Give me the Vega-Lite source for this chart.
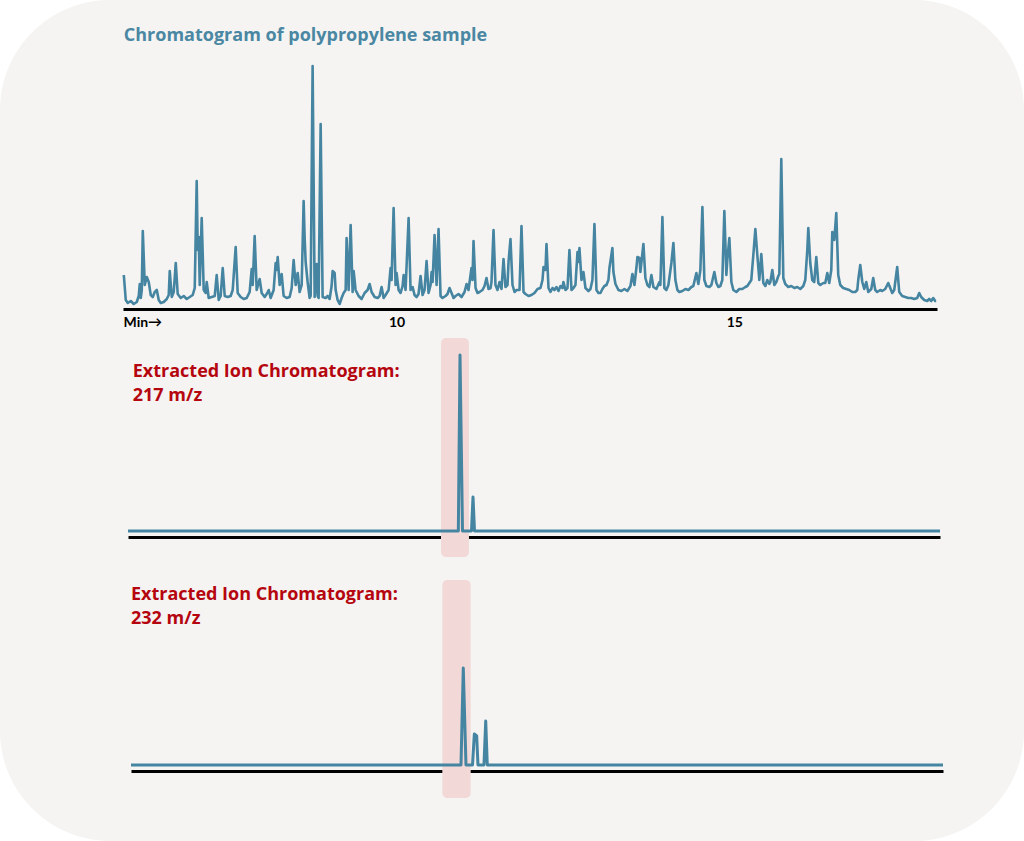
{
  "$schema": "https://vega.github.io/schema/vega-lite/v6.json",
  "width": 1024,
  "height": 841,
  "autosize": "none",
  "padding": 0,
  "background": "#ffffff",
  "config": {
    "view": {"fill": "#f5f4f2", "stroke": null, "cornerRadius": 110},
    "font": "Open Sans"
  },
  "datasets": {
    "tic": [
      {"t":5.962,"i":34},{"t":5.991,"i":9},{"t":6.021,"i":6},{"t":6.065,"i":8},{"t":6.109,"i":5},{"t":6.154,"i":7},{"t":6.183,"i":13},{"t":6.198,"i":25},{"t":6.213,"i":11},{"t":6.228,"i":19},
      {"t":6.243,"i":78},{"t":6.272,"i":24},{"t":6.302,"i":32},{"t":6.331,"i":27},{"t":6.361,"i":14},{"t":6.391,"i":12},{"t":6.420,"i":17},{"t":6.450,"i":19},{"t":6.479,"i":9},{"t":6.509,"i":6},
      {"t":6.553,"i":7},{"t":6.598,"i":10},{"t":6.627,"i":14},{"t":6.642,"i":38},{"t":6.672,"i":12},{"t":6.701,"i":17},{"t":6.731,"i":46},{"t":6.760,"i":15},{"t":6.805,"i":11},{"t":6.849,"i":13},
      {"t":6.893,"i":10},{"t":6.938,"i":12},{"t":6.982,"i":14},{"t":7.012,"i":21},{"t":7.041,"i":128},{"t":7.056,"i":59},{"t":7.071,"i":72},{"t":7.086,"i":24},{"t":7.115,"i":91},{"t":7.145,"i":19},
      {"t":7.175,"i":16},{"t":7.189,"i":27},{"t":7.219,"i":11},{"t":7.263,"i":12},{"t":7.308,"i":13},{"t":7.337,"i":34},{"t":7.367,"i":9},{"t":7.396,"i":13},{"t":7.426,"i":41},{"t":7.456,"i":13},
      {"t":7.500,"i":12},{"t":7.544,"i":13},{"t":7.574,"i":19},{"t":7.618,"i":62},{"t":7.648,"i":16},{"t":7.692,"i":12},{"t":7.737,"i":10},{"t":7.781,"i":11},{"t":7.825,"i":17},{"t":7.855,"i":40},
      {"t":7.870,"i":24},{"t":7.899,"i":73},{"t":7.929,"i":19},{"t":7.973,"i":30},{"t":8.003,"i":16},{"t":8.047,"i":12},{"t":8.077,"i":15},{"t":8.107,"i":19},{"t":8.136,"i":11},{"t":8.180,"i":19},
      {"t":8.210,"i":46},{"t":8.225,"i":39},{"t":8.240,"i":52},{"t":8.269,"i":24},{"t":8.299,"i":35},{"t":8.328,"i":13},{"t":8.373,"i":11},{"t":8.417,"i":12},{"t":8.447,"i":21},{"t":8.476,"i":49},
      {"t":8.506,"i":24},{"t":8.536,"i":36},{"t":8.565,"i":17},{"t":8.595,"i":24},{"t":8.624,"i":108},{"t":8.639,"i":71},{"t":8.654,"i":47},{"t":8.683,"i":27},{"t":8.713,"i":11},{"t":8.728,"i":13},
      {"t":8.757,"i":243},{"t":8.787,"i":12},{"t":8.817,"i":45},{"t":8.831,"i":13},{"t":8.846,"i":11},{"t":8.876,"i":185},{"t":8.905,"i":12},{"t":8.950,"i":11},{"t":8.979,"i":13},{"t":9.009,"i":10},
      {"t":9.038,"i":23},{"t":9.053,"i":38},{"t":9.083,"i":36},{"t":9.098,"i":19},{"t":9.127,"i":9},{"t":9.157,"i":5},{"t":9.186,"i":11},{"t":9.216,"i":16},{"t":9.246,"i":19},{"t":9.260,"i":71},
      {"t":9.290,"i":19},{"t":9.320,"i":84},{"t":9.349,"i":17},{"t":9.364,"i":38},{"t":9.393,"i":19},{"t":9.438,"i":13},{"t":9.482,"i":10},{"t":9.527,"i":16},{"t":9.571,"i":19},{"t":9.601,"i":25},
      {"t":9.630,"i":17},{"t":9.675,"i":12},{"t":9.719,"i":11},{"t":9.749,"i":13},{"t":9.778,"i":22},{"t":9.808,"i":11},{"t":9.837,"i":14},{"t":9.882,"i":19},{"t":9.911,"i":41},{"t":9.926,"i":29},
      {"t":9.956,"i":101},{"t":9.985,"i":24},{"t":10.000,"i":36},{"t":10.030,"i":19},{"t":10.059,"i":16},{"t":10.089,"i":23},{"t":10.104,"i":34},{"t":10.133,"i":19},{"t":10.178,"i":91},{"t":10.207,"i":19},
      {"t":10.237,"i":22},{"t":10.266,"i":14},{"t":10.296,"i":12},{"t":10.325,"i":15},{"t":10.355,"i":33},{"t":10.385,"i":14},{"t":10.414,"i":19},{"t":10.444,"i":48},{"t":10.473,"i":16},{"t":10.503,"i":24},
      {"t":10.518,"i":37},{"t":10.533,"i":27},{"t":10.562,"i":74},{"t":10.592,"i":24},{"t":10.621,"i":80},{"t":10.651,"i":13},{"t":10.680,"i":11},{"t":10.725,"i":13},{"t":10.754,"i":15},{"t":10.784,"i":21},
      {"t":10.814,"i":16},{"t":10.843,"i":11},{"t":10.873,"i":13},{"t":10.917,"i":15},{"t":10.962,"i":12},{"t":11.006,"i":17},{"t":11.036,"i":25},{"t":11.065,"i":19},{"t":11.109,"i":41},{"t":11.124,"i":29},
      {"t":11.139,"i":68},{"t":11.169,"i":21},{"t":11.198,"i":16},{"t":11.228,"i":17},{"t":11.272,"i":19},{"t":11.302,"i":23},{"t":11.331,"i":31},{"t":11.361,"i":20},{"t":11.391,"i":21},{"t":11.405,"i":27},
      {"t":11.435,"i":79},{"t":11.464,"i":24},{"t":11.494,"i":19},{"t":11.524,"i":27},{"t":11.553,"i":20},{"t":11.583,"i":50},{"t":11.612,"i":22},{"t":11.642,"i":24},{"t":11.657,"i":47},{"t":11.686,"i":70},
      {"t":11.716,"i":24},{"t":11.746,"i":17},{"t":11.775,"i":19},{"t":11.820,"i":19},{"t":11.849,"i":83},{"t":11.879,"i":17},{"t":11.908,"i":15},{"t":11.953,"i":13},{"t":11.997,"i":14},{"t":12.041,"i":16},
      {"t":12.086,"i":20},{"t":12.130,"i":21},{"t":12.160,"i":29},{"t":12.175,"i":42},{"t":12.204,"i":39},{"t":12.219,"i":65},{"t":12.249,"i":21},{"t":12.278,"i":17},{"t":12.308,"i":21},{"t":12.337,"i":19},
      {"t":12.367,"i":22},{"t":12.396,"i":18},{"t":12.426,"i":23},{"t":12.456,"i":21},{"t":12.470,"i":27},{"t":12.500,"i":19},{"t":12.530,"i":21},{"t":12.559,"i":59},{"t":12.589,"i":19},{"t":12.618,"i":21},
      {"t":12.648,"i":24},{"t":12.678,"i":57},{"t":12.692,"i":47},{"t":12.707,"i":61},{"t":12.737,"i":29},{"t":12.766,"i":37},{"t":12.796,"i":21},{"t":12.840,"i":18},{"t":12.870,"i":20},{"t":12.899,"i":29},
      {"t":12.929,"i":85},{"t":12.959,"i":19},{"t":12.988,"i":16},{"t":13.018,"i":16},{"t":13.047,"i":20},{"t":13.077,"i":23},{"t":13.107,"i":24},{"t":13.136,"i":29},{"t":13.151,"i":41},{"t":13.195,"i":61},
      {"t":13.210,"i":37},{"t":13.240,"i":25},{"t":13.284,"i":19},{"t":13.328,"i":18},{"t":13.373,"i":20},{"t":13.417,"i":18},{"t":13.462,"i":23},{"t":13.491,"i":35},{"t":13.521,"i":24},{"t":13.550,"i":41},
      {"t":13.565,"i":52},{"t":13.595,"i":51},{"t":13.609,"i":37},{"t":13.654,"i":65},{"t":13.683,"i":31},{"t":13.713,"i":24},{"t":13.743,"i":22},{"t":13.772,"i":34},{"t":13.802,"i":22},{"t":13.846,"i":20},
      {"t":13.891,"i":27},{"t":13.905,"i":24},{"t":13.935,"i":92},{"t":13.964,"i":21},{"t":13.994,"i":19},{"t":14.024,"i":24},{"t":14.068,"i":46},{"t":14.098,"i":66},{"t":14.127,"i":29},{"t":14.157,"i":19},
      {"t":14.186,"i":17},{"t":14.231,"i":18},{"t":14.275,"i":20},{"t":14.320,"i":19},{"t":14.364,"i":22},{"t":14.393,"i":23},{"t":14.438,"i":36},{"t":14.467,"i":25},{"t":14.497,"i":39},{"t":14.527,"i":102},
      {"t":14.556,"i":29},{"t":14.586,"i":23},{"t":14.630,"i":22},{"t":14.660,"i":24},{"t":14.704,"i":37},{"t":14.734,"i":26},{"t":14.763,"i":22},{"t":14.793,"i":23},{"t":14.822,"i":29},{"t":14.852,"i":98},
      {"t":14.882,"i":34},{"t":14.896,"i":49},{"t":14.926,"i":71},{"t":14.956,"i":27},{"t":14.985,"i":19},{"t":15.030,"i":17},{"t":15.074,"i":20},{"t":15.118,"i":20},{"t":15.163,"i":22},{"t":15.192,"i":23},
      {"t":15.222,"i":26},{"t":15.251,"i":29},{"t":15.281,"i":54},{"t":15.311,"i":80},{"t":15.340,"i":54},{"t":15.370,"i":29},{"t":15.399,"i":55},{"t":15.429,"i":26},{"t":15.459,"i":23},{"t":15.488,"i":29},
      {"t":15.518,"i":25},{"t":15.533,"i":27},{"t":15.562,"i":39},{"t":15.592,"i":24},{"t":15.621,"i":27},{"t":15.651,"i":33},{"t":15.666,"i":35},{"t":15.695,"i":150},{"t":15.725,"i":31},{"t":15.754,"i":25},
      {"t":15.799,"i":22},{"t":15.843,"i":23},{"t":15.888,"i":21},{"t":15.932,"i":22},{"t":15.976,"i":20},{"t":16.021,"i":23},{"t":16.050,"i":29},{"t":16.080,"i":59},{"t":16.095,"i":81},{"t":16.124,"i":46},
      {"t":16.154,"i":29},{"t":16.183,"i":27},{"t":16.213,"i":52},{"t":16.243,"i":26},{"t":16.272,"i":24},{"t":16.317,"i":26},{"t":16.346,"i":26},{"t":16.376,"i":36},{"t":16.405,"i":26},{"t":16.435,"i":39},
      {"t":16.450,"i":77},{"t":16.479,"i":69},{"t":16.509,"i":96},{"t":16.538,"i":34},{"t":16.568,"i":24},{"t":16.612,"i":21},{"t":16.657,"i":20},{"t":16.701,"i":19},{"t":16.746,"i":17},{"t":16.790,"i":17},
      {"t":16.820,"i":19},{"t":16.834,"i":29},{"t":16.864,"i":44},{"t":16.894,"i":27},{"t":16.923,"i":20},{"t":16.953,"i":27},{"t":16.982,"i":17},{"t":17.027,"i":20},{"t":17.056,"i":31},{"t":17.086,"i":19},
      {"t":17.115,"i":17},{"t":17.160,"i":19},{"t":17.189,"i":18},{"t":17.234,"i":20},{"t":17.278,"i":26},{"t":17.308,"i":21},{"t":17.337,"i":16},{"t":17.367,"i":19},{"t":17.411,"i":42},{"t":17.441,"i":17},
      {"t":17.485,"i":13},{"t":17.530,"i":12},{"t":17.574,"i":11},{"t":17.618,"i":11},{"t":17.663,"i":10},{"t":17.707,"i":11},{"t":17.737,"i":16},{"t":17.766,"i":12},{"t":17.811,"i":9},{"t":17.855,"i":8},
      {"t":17.885,"i":10},{"t":17.914,"i":8},{"t":17.944,"i":11},{"t":17.973,"i":8},{"t":17.988,"i":8}
    ],
    "ion217": [
      {"t":5.95,"i":0},{"t":10.852,"i":0},{"t":10.877,"i":176},{"t":10.914,"i":0},
      {"t":11.047,"i":0},{"t":11.070,"i":34},{"t":11.092,"i":0},{"t":18.0,"i":0}
    ],
    "ion232": [
      {"t":5.95,"i":0},{"t":10.847,"i":0},{"t":10.881,"i":97},{"t":10.921,"i":0},
      {"t":11.018,"i":0},{"t":11.045,"i":31},{"t":11.080,"i":29},{"t":11.099,"i":0},
      {"t":11.188,"i":0},{"t":11.214,"i":44},{"t":11.237,"i":0},{"t":18.0,"i":0}
    ]
  },
  "layer": [
    {
      "encoding": {
        "x": {
          "field": "t",
          "type": "quantitative",
          "scale": {"domain": [5.95, 18], "range": [123, 937]},
          "axis": {
            "orient": "bottom",
            "offset": -532,
            "title": null,
            "values": [5.95, 10, 15],
            "labelExpr": "datum.value < 6 ? 'Min→' : datum.label",
            "labelAlign": {"condition": {"test": "datum.value < 6", "value": "left"}, "value": "center"},
            "labelFlush": false,
            "labelOverlap": false,
            "ticks": false,
            "grid": false,
            "domainColor": "#000000",
            "domainWidth": 3,
            "labelFont": "Lato",
            "labelFontWeight": "bold",
            "labelFontSize": 14,
            "labelColor": "#000000",
            "labelPadding": 6
          }
        },
        "y": {
          "field": "i",
          "type": "quantitative",
          "scale": {"domain": [0, 290], "range": [309, 19]},
          "axis": null
        }
      },
      "layer": [
        {
          "data": {"name": "tic"},
          "mark": {"type": "line", "color": "#4585a1", "strokeWidth": 2.6, "strokeJoin": "round"}
        },
        {
          "data": {"values": [{"t": 5.962, "i": 268, "label": "Chromatogram of polypropylene sample"}]},
          "mark": {"type": "text", "align": "left", "baseline": "alphabetic", "font": "Open Sans", "fontSize": 18, "fontWeight": "bold", "color": "#4a87a3"},
          "encoding": {"text": {"field": "label"}}
        }
      ]
    },
    {
      "encoding": {
        "x": {
          "field": "t",
          "type": "quantitative",
          "scale": {"domain": [5.95, 18], "range": [128, 940]},
          "axis": {"orient": "bottom", "offset": -304, "title": null, "labels": false, "ticks": false, "grid": false, "domainColor": "#000000", "domainWidth": 3}
        },
        "y": {
          "field": "i",
          "type": "quantitative",
          "scale": {"domain": [-26, 193], "range": [557, 338]},
          "axis": null
        }
      },
      "layer": [
        {
          "data": {"values": [{"t": 10.595, "t2": 11.010, "i": -26, "i2": 193}]},
          "mark": {"type": "rect", "color": "#f2d9d7", "cornerRadius": 5},
          "encoding": {"x2": {"field": "t2"}, "y2": {"field": "i2"}}
        },
        {
          "data": {"name": "ion217"},
          "mark": {"type": "line", "color": "#4585a1", "strokeWidth": 3, "strokeJoin": "round"}
        },
        {
          "data": {"values": [{"t": 6.02, "i": 154, "label": "Extracted Ion Chromatogram:\n217 m/z"}]},
          "mark": {"type": "text", "align": "left", "baseline": "alphabetic", "font": "Open Sans", "fontSize": 18, "fontWeight": "bold", "color": "#b5060f", "lineBreak": "\n", "lineHeight": 24},
          "encoding": {"text": {"field": "label"}}
        }
      ]
    },
    {
      "encoding": {
        "x": {
          "field": "t",
          "type": "quantitative",
          "scale": {"domain": [5.95, 18], "range": [131, 943]},
          "axis": {"orient": "bottom", "offset": -70, "title": null, "labels": false, "ticks": false, "grid": false, "domainColor": "#000000", "domainWidth": 3}
        },
        "y": {
          "field": "i",
          "type": "quantitative",
          "scale": {"domain": [-33, 185], "range": [798, 580]},
          "axis": null
        }
      },
      "layer": [
        {
          "data": {"values": [{"t": 10.570, "t2": 10.991, "i": -33, "i2": 185}]},
          "mark": {"type": "rect", "color": "#f2d9d7", "cornerRadius": 5},
          "encoding": {"x2": {"field": "t2"}, "y2": {"field": "i2"}}
        },
        {
          "data": {"name": "ion232"},
          "mark": {"type": "line", "color": "#4585a1", "strokeWidth": 3, "strokeJoin": "round"}
        },
        {
          "data": {"values": [{"t": 5.95, "i": 165, "label": "Extracted Ion Chromatogram:\n232 m/z"}]},
          "mark": {"type": "text", "align": "left", "baseline": "alphabetic", "font": "Open Sans", "fontSize": 18, "fontWeight": "bold", "color": "#b5060f", "lineBreak": "\n", "lineHeight": 24},
          "encoding": {"text": {"field": "label"}}
        }
      ]
    }
  ],
  "resolve": {
    "scale": {"x": "independent", "y": "independent"},
    "axis": {"x": "independent", "y": "independent"}
  }
}
